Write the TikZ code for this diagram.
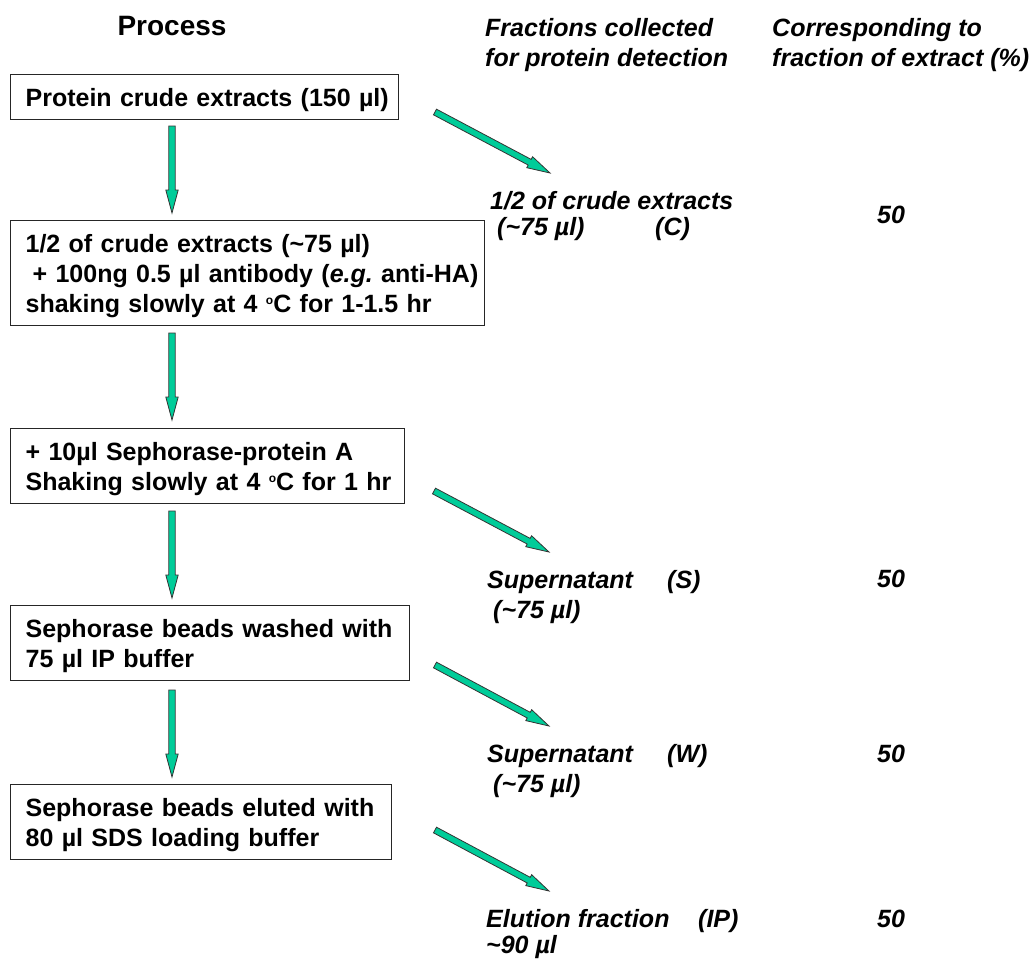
\documentclass[tikz,border=0pt]{standalone}
\usepackage{fontspec}
\setmainfont{Liberation Sans}
\usetikzlibrary{calc}
\definecolor{arrowgreen}{RGB}{0,204,153}
\newcommand\ind{\hspace*{15pt}}
\newcommand\dego{\raisebox{8pt}{\fontsize{12}{12}\selectfont o}}
\newcommand\blockarrow[2]{%
  \coordinate (hd) at ($(#2)!23pt!(#1)$);
  \draw[blockarr] ($(#1)!3.2pt!90:(#2)$) -- ($(hd)!3.2pt!90:(#2)$) -- ($(hd)!6.2pt!90:(#2)$) -- (#2)
    -- ($(hd)!6.2pt!-90:(#2)$) -- ($(hd)!3.2pt!-90:(#2)$) -- ($(#1)!3.2pt!-90:(#2)$) -- cycle;}
\begin{document}
\begin{tikzpicture}[x=1pt,y=-1pt,
  box/.style={draw=black!85, line width=1.3pt, anchor=north west, inner xsep=0pt, inner ysep=0pt,
    align=left, text height=32pt, font=\fontsize{25}{30}\selectfont\bfseries},
  lbl/.style={anchor=base west, inner sep=0pt, align=left, font=\fontsize{25}{30}\selectfont\bfseries\itshape},
  blockarr/.style={draw=black!80, line width=0.8pt, fill=arrowgreen, line join=miter}]
\useasboundingbox (0,0) rectangle (1031,962);

% headers (anchor = baseline of last line)
\node[anchor=base, inner sep=0pt, font=\fontsize{28}{34}\selectfont\bfseries] (title) at (172,35) {Process};
\node[lbl] (hfrac) at (485,66) {Fractions collected\\for protein detection};
\node[lbl] (hcorr) at (772,66) {Corresponding to\\fraction of extract (\%)};

% process boxes
\node[box, text width=388pt, text depth=13pt] (b1) at (10,74)
  {\ind Protein crude extracts (150 µl)};
\node[box, text width=474pt, text depth=73pt] (b2) at (10,220)
  {\ind 1/2 of crude extracts (\textasciitilde 75 µl)\\
   \ind\hspace*{7pt}+ 100ng 0.5 µl antibody ({\itshape e.g.}\ anti-HA)\\
   \ind shaking slowly at 4 \dego C for 1-1.5 hr};
\node[box, text width=394pt, text depth=43pt] (b3) at (10,428)
  {\ind + 10µl Sephorase-protein A\\
   \ind Shaking slowly at 4 \dego C for 1 hr};
\node[box, text width=399pt, text depth=43pt] (b4) at (10,605)
  {\ind Sephorase beads washed with\\
   \ind 75 µl IP buffer};
\node[box, text width=381pt, text depth=43pt] (b5) at (10,784)
  {\ind Sephorase beads eluted with\\
   \ind 80 µl SDS loading buffer};

% fractions (anchor = baseline of last line)
\node[lbl] (fc) at (490,235)
  {1/2 of crude extracts\\[-4pt]\makebox[165pt][l]{\hspace*{7pt}(\textasciitilde 75 µl)}(C)};
\node[lbl] (fs) at (487,618)
  {\makebox[180pt][l]{Supernatant}(S)\\\hspace*{6pt}(\textasciitilde 75 µl)};
\node[lbl] (fw) at (487,792)
  {\makebox[180pt][l]{Supernatant}(W)\\\hspace*{6pt}(\textasciitilde 75 µl)};
\node[lbl] (fip) at (486,953)
  {\makebox[212pt][l]{Elution fraction}(IP)\\[-4pt]\textasciitilde 90 µl};

% percentages
\node[lbl] (pc) at (877,223) {50};
\node[lbl] (ps) at (877,587) {50};
\node[lbl] (pw) at (877,762) {50};
\node[lbl] (pip) at (877,927) {50};

% arrow end points
\coordinate (v1s) at (172,126); \coordinate (v1e) at (172,213);
\coordinate (v2s) at (172,333); \coordinate (v2e) at (172,420);
\coordinate (v3s) at (172,511); \coordinate (v3e) at (172,598);
\coordinate (v4s) at (172,690); \coordinate (v4e) at (172,777);
\coordinate (d1s) at (435,112); \coordinate (d1e) at (550,173);
\coordinate (d2s) at (434,491); \coordinate (d2e) at (549,552);
\coordinate (d3s) at (435,665); \coordinate (d3e) at (549,726);
\coordinate (d4s) at (435,830); \coordinate (d4e) at (549,891);

\blockarrow{v1s}{v1e}
\blockarrow{v2s}{v2e}
\blockarrow{v3s}{v3e}
\blockarrow{v4s}{v4e}
\blockarrow{d1s}{d1e}
\blockarrow{d2s}{d2e}
\blockarrow{d3s}{d3e}
\blockarrow{d4s}{d4e}
\end{tikzpicture}
\end{document}
